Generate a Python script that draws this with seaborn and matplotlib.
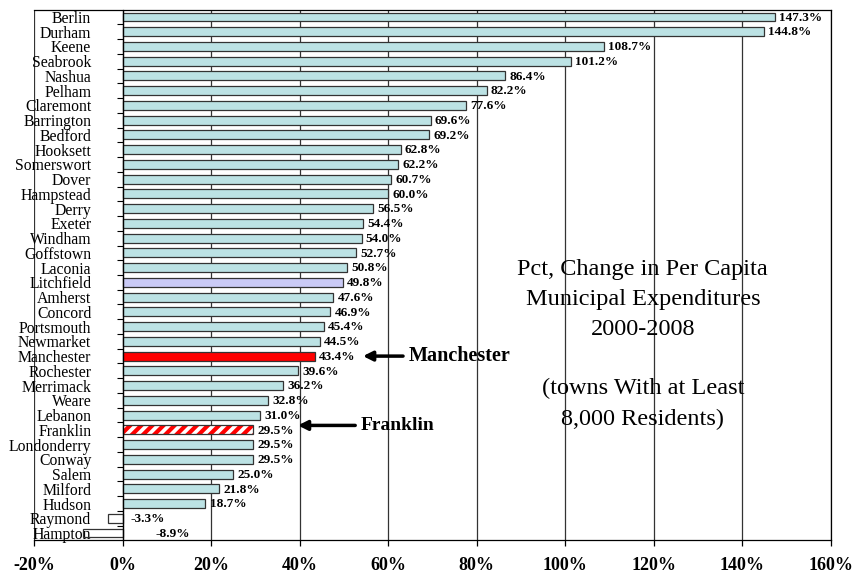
import numpy as np
import pandas as pd
import matplotlib
matplotlib.use('Agg')
import matplotlib.pyplot as plt
import seaborn as sns

# data (top to bottom)
towns = ['Berlin', 'Durham', 'Keene', 'Seabrook', 'Nashua', 'Pelham', 'Claremont',
         'Barrington', 'Bedford', 'Hooksett', 'Somerswort', 'Dover', 'Hampstead',
         'Derry', 'Exeter', 'Windham', 'Goffstown', 'Laconia', 'Litchfield', 'Amherst',
         'Concord', 'Portsmouth', 'Newmarket', 'Manchester', 'Rochester', 'Merrimack',
         'Weare', 'Lebanon', 'Franklin', 'Londonderry', 'Conway', 'Salem', 'Milford',
         'Hudson', 'Raymond', 'Hampton']
pct_change = [147.3, 144.8, 108.7, 101.2, 86.4, 82.2, 77.6, 69.6, 69.2, 62.8, 62.2,
              60.7, 60.0, 56.5, 54.4, 54.0, 52.7, 50.8, 49.8, 47.6, 46.9, 45.4, 44.5,
              43.4, 39.6, 36.2, 32.8, 31.0, 29.5, 29.5, 29.5, 25.0, 21.8, 18.7, -3.3, -8.9]
x_ticks = [-20, 0, 20, 40, 60, 80, 100, 120, 140, 160]

base_color = '#BCE2E4'
palette = {}
for t, v in zip(towns, pct_change):
    palette[t] = base_color if v >= 0 else 'none'
palette['Litchfield'] = '#CACAF6'
palette['Manchester'] = '#FF0000'
palette['Franklin'] = 'none'

df = pd.DataFrame({'town': towns, 'pct': pct_change})

plt.rcParams['font.family'] = ['Liberation Serif', 'DejaVu Serif']
plt.rcParams['hatch.linewidth'] = 3.0

fig = plt.figure(figsize=(8.56, 5.76), dpi=100)
ax = fig.add_axes([34 / 856, 1 - 540 / 576, (831 - 34) / 856, (540 - 10) / 576])
ax.set_axisbelow(True)

# red / white striped bar for Franklin (drawn under the outlined seaborn bar)
fi = towns.index('Franklin')
ax.barh(fi, pct_change[fi], height=0.6, color='white', edgecolor='red',
        hatch='///', linewidth=0, zorder=0.9)

sns.barplot(data=df, x='pct', y='town', hue='town', palette=palette, order=towns,
            hue_order=towns, orient='h', width=0.6, edgecolor='#333333',
            linewidth=0.9, saturation=1, legend=False, ax=ax)

# value labels
for i, v in enumerate(pct_change):
    if v >= 0:
        ax.annotate(f'{v:.1f}%', xy=(v, i), xytext=(3, -0.5), textcoords='offset points',
                    ha='left', va='center', fontsize=9.5, fontweight='bold')
    else:
        ax.annotate(f'{v:.1f}%', xy=(-v, i), xytext=(-5, -0.5), textcoords='offset points',
                    ha='left', va='center', fontsize=9.5, fontweight='bold')

ax.set_xlim(-20, 160)
ax.set_ylim(len(towns) - 0.53, -0.47)
ax.set_xticks(x_ticks)
ax.set_xticklabels([f'{t}%' for t in x_ticks], fontweight='bold', fontsize=13)
ax.tick_params(axis='x', length=4, width=0.9, pad=8)

ax.spines['left'].set_position(('data', 0))
for s in ax.spines.values():
    s.set_color('black')
    s.set_linewidth(0.9)

ax.set_yticks(np.arange(0.5, len(towns) - 1), minor=True)
ax.tick_params(axis='y', which='major', length=0, pad=22.5, labelsize=11.3)
ax.tick_params(axis='y', which='minor', length=4.5, width=0.8, direction='out')

ax.xaxis.grid(True, color='#333333', linewidth=0.9)
ax.yaxis.grid(False)
ax.set_xlabel('')
ax.set_ylabel('')

ax.text(117.5, 22.2, 'Pct, Change in Per Capita\nMunicipal Expenditures\n2000-2008\n\n'
        '(towns With at Least\n8,000 Residents)', ha='center', va='center',
        multialignment='center', fontsize=17.5, linespacing=1.55)

arrow = dict(arrowstyle='-|>', color='black', lw=2.5, mutation_scale=14,
             shrinkA=2, shrinkB=0)
mi = towns.index('Manchester')
ax.annotate('Manchester', xy=(54.3, mi), xytext=(64.6, mi), ha='left', va='center',
            fontsize=14.5, fontweight='bold', arrowprops=arrow)
ax.annotate('Franklin', xy=(39.6, fi - 0.3), xytext=(53.8, fi - 0.3), ha='left',
            va='center', fontsize=14, fontweight='bold', arrowprops=arrow)

fig.savefig('out.png', dpi=100, facecolor='white')
